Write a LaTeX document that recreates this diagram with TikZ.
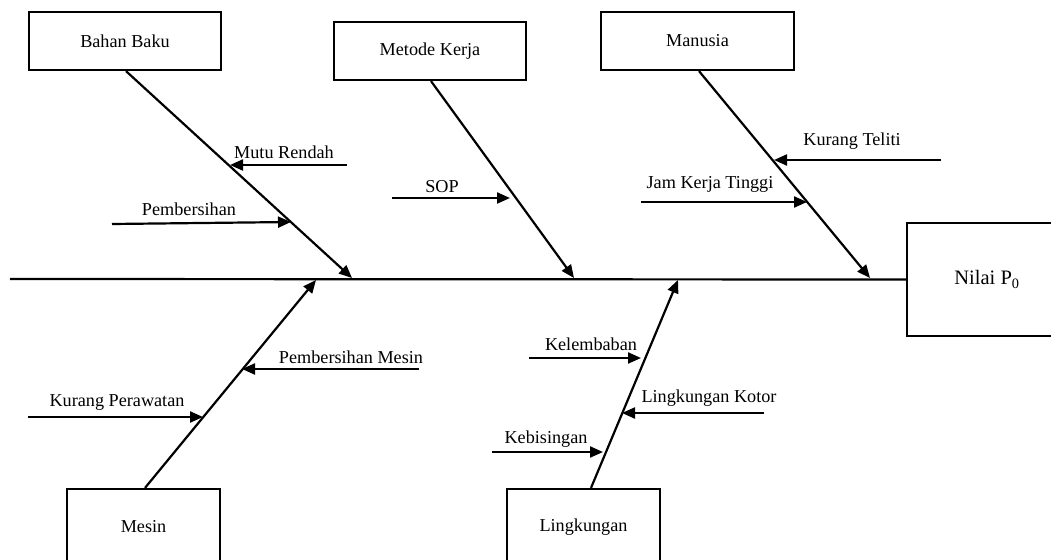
\documentclass[tikz,border=0pt]{standalone}
\usepackage{fontspec}
\setmainfont{Liberation Serif}
\usetikzlibrary{arrows.meta}
\begin{document}
\begin{tikzpicture}[x=1pt,y=-1pt,
  every node/.style={font=\fontsize{18.2}{22}\selectfont, inner sep=0pt},
  box/.style={draw, line width=2.2pt, minimum width=192pt, minimum height=58pt},
  lbl/.style={anchor=base},
  ln/.style={line width=2.2pt},
  arr/.style={line width=2.2pt, -{Triangle[length=13pt,width=11pt]}}]
\useasboundingbox (0,0) rectangle (1051,559);
\clip (0,0) rectangle (1051,559);
\fill[white] (0,0) rectangle (1051,559);
% boxes
\node[box] (bb) at (125,41) {Bahan Baku};
\node[box] (mk) at (430,51) {Metode Kerja};
\node[box, minimum width=193pt] (mn) at (697.5,41) {Manusia};
\node[box, minimum width=153pt, minimum height=76pt] (ms) at (143.5,527) {Mesin};
\node[box, minimum width=153pt, minimum height=76pt] (lk) at (583.5,527) {Lingkungan};
\node[box, minimum width=160pt, minimum height=113pt, font=\fontsize{20.5}{24}\selectfont] (ni) at (987,279.5) {Nilai P\textsubscript{0}};
% spine
\coordinate (sp0) at (10,279);
\draw[ln] (sp0) -- (ni.west);
% branch tips
\coordinate (tbb) at (352,278);
\coordinate (tmk) at (574,278);
\coordinate (tmn) at (870,278);
\coordinate (tms) at (316,280);
\coordinate (tlk) at (678,280);
\draw[arr] ([xshift=1pt]bb.south) -- (tbb);
\draw[arr] ([xshift=1pt]mk.south) -- (tmk);
\draw[arr] ([xshift=1.5pt]mn.south) -- (tmn);
\draw[arr] ([xshift=1.5pt]ms.north) -- (tms);
\draw[arr] ([xshift=7.5pt]lk.north) -- (tlk);
% Bahan Baku causes
\node[lbl] (l1) at (284,158) {Mutu Rendah};
\coordinate (a1s) at (347,165); \coordinate (a1e) at (230,165);
\draw[arr] (a1s) -- (a1e);
\node[lbl] (l2) at (189,215) {Pembersihan};
\coordinate (a2s) at (112,224); \coordinate (a2e) at (291,222);
\draw[arr] (a2s) -- (a2e);
% Metode Kerja causes
\node[lbl] (l3) at (442,192) {SOP};
\coordinate (a3s) at (392,198); \coordinate (a3e) at (510,198);
\draw[arr] (a3s) -- (a3e);
% Manusia causes
\node[lbl] (l4) at (852,145) {Kurang Teliti};
\coordinate (a4s) at (941,160); \coordinate (a4e) at (774,160);
\draw[arr] (a4s) -- (a4e);
\node[lbl] (l5) at (710,188) {Jam Kerja Tinggi};
\coordinate (a5s) at (641,202); \coordinate (a5e) at (807,202);
\draw[arr] (a5s) -- (a5e);
% Mesin causes
\node[lbl] (l6) at (351,363) {Pembersihan Mesin};
\coordinate (a6s) at (419,369); \coordinate (a6e) at (242,369);
\draw[arr] (a6s) -- (a6e);
\node[lbl] (l7) at (117,406) {Kurang Perawatan};
\coordinate (a7s) at (28,417); \coordinate (a7e) at (203,417);
\draw[arr] (a7s) -- (a7e);
% Lingkungan causes
\node[lbl] (l8) at (591,350) {Kelembaban};
\coordinate (a8s) at (529,358); \coordinate (a8e) at (641,358);
\draw[arr] (a8s) -- (a8e);
\node[lbl] (l9) at (709,402) {Lingkungan Kotor};
\coordinate (a9s) at (764,413); \coordinate (a9e) at (622,413);
\draw[arr] (a9s) -- (a9e);
\node[lbl] (l10) at (546,443) {Kebisingan};
\coordinate (a10s) at (492,452); \coordinate (a10e) at (603,452);
\draw[arr] (a10s) -- (a10e);
\end{tikzpicture}
\end{document}
